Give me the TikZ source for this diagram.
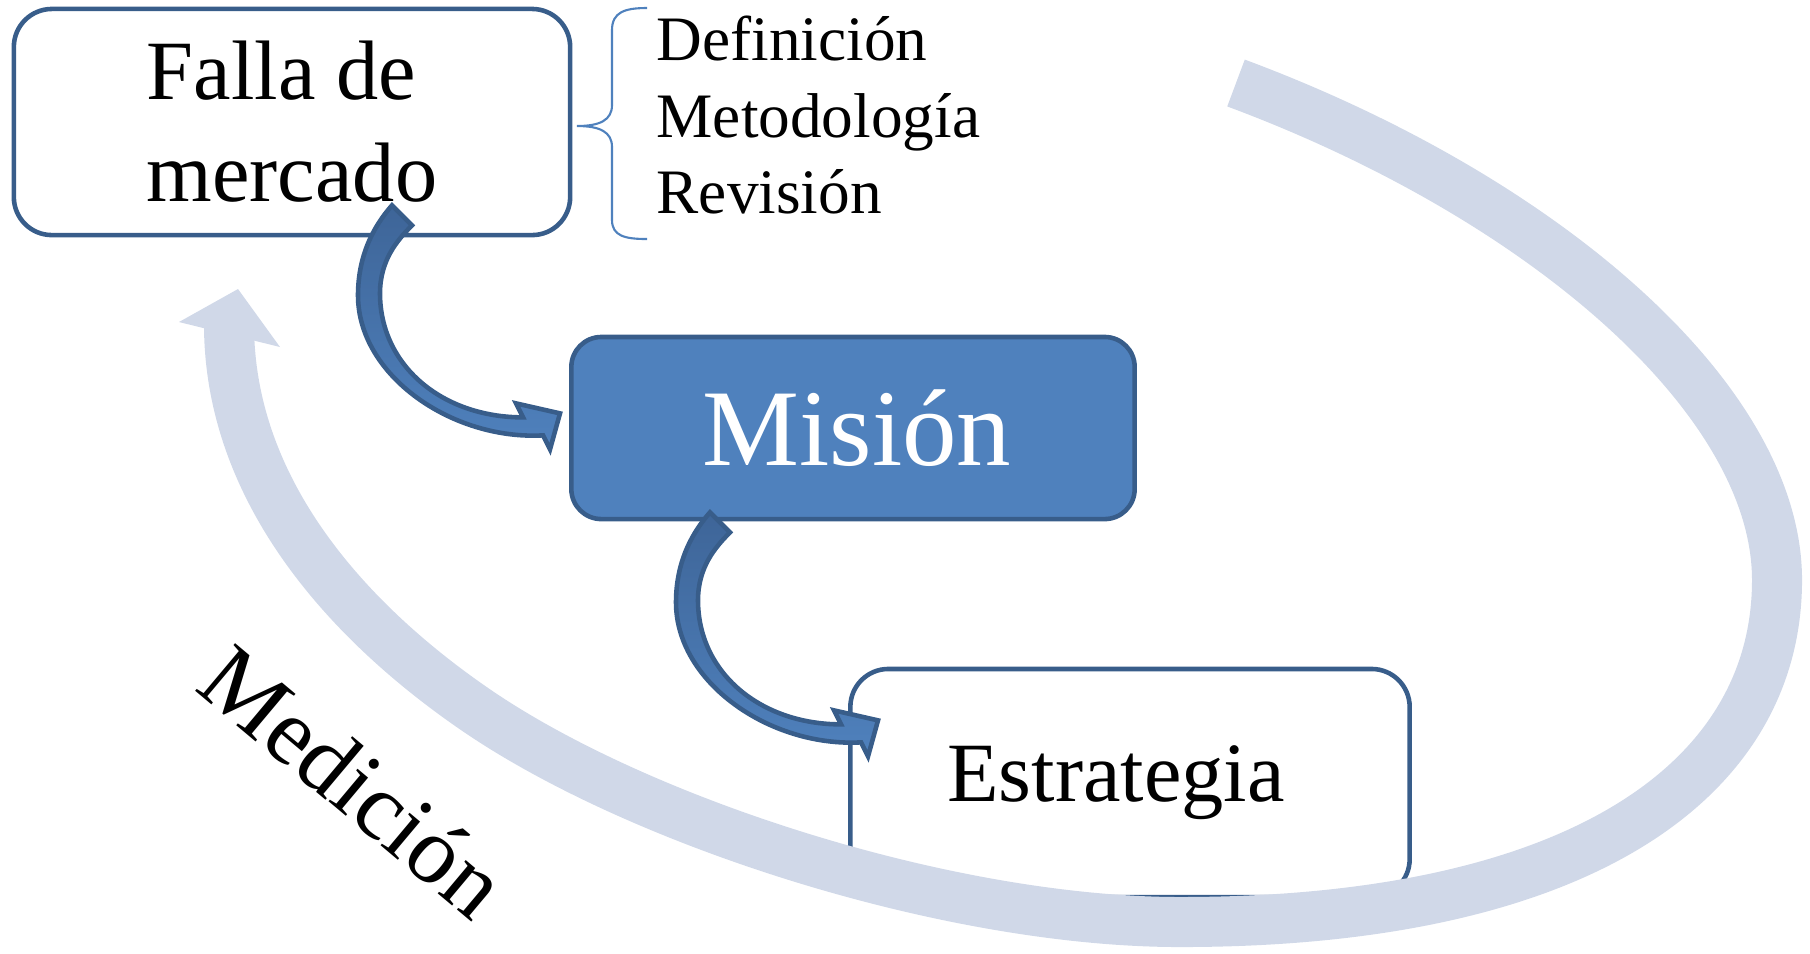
\documentclass[tikz,border=0pt]{standalone}
\usepackage{fontspec}
\setmainfont{Liberation Serif}
\usepackage{tikz}
\definecolor{boxline}{HTML}{385D8A}
\definecolor{misionblue}{HTML}{4F81BD}
\definecolor{arrowdark}{HTML}{3E6598}
\definecolor{cyclefill}{HTML}{D0D8E8}
\tikzstyle{whitebox}=[shape=rectangle,rounded corners=0.38cm,draw=boxline,line width=1.3pt,fill=white,align=center,font=\fontsize{24}{29}\selectfont]
\tikzstyle{bluebox}=[whitebox,rounded corners=0.3cm,fill=misionblue,text=white,font=\fontsize{31}{36}\selectfont]
\tikzstyle{itemtext}=[inner sep=0pt,font=\fontsize{18}{22}\selectfont]
\tikzstyle{bracket}=[draw=misionblue,line width=0.6pt]
\tikzstyle{cycleband}=[draw=cyclefill,line width=0.5cm]
\tikzstyle{arrowline}=[draw=boxline,line width=1.3pt,top color=arrowdark,bottom color=misionblue]
\tikzset{
  bendarrow/.pic={
    \draw[arrowline] (0,0) .. controls (-22,25) and (-34,55) .. (-34,90)
      .. controls (-34,170) and (60,235) .. (151,230)
      -- (158,244) -- (168,208) -- (124,198) -- (131,212)
      .. controls (50,212) and (-12,160) .. (-12,88)
      .. controls (-12,55) and (5,35) .. (20,20) -- cycle;
  }
}

\begin{document}
\begin{tikzpicture}[x=0.01cm,y=-0.01cm]
\useasboundingbox (0,0) rectangle (1810,953);
% boxes
\node[whitebox,align=left,minimum width=5.56cm,minimum height=2.26cm] (falla) at (292,122) {Falla de\\mercado};
\node[bluebox,minimum width=5.63cm,minimum height=1.82cm] (mision) at (853,428) {\hspace*{0.08cm}Misión};
\node[whitebox,minimum width=5.59cm,minimum height=2.28cm] (estrategia) at (1130,783) {Estrategia\hspace*{0.28cm}};
% items
\node[itemtext,anchor=base west] (def) at (656,60) {Definición};
\node[itemtext,anchor=base west] (met) at (656,137) {Metodología};
\node[itemtext,anchor=base west] (rev) at (656,213) {Revisión};
\draw[bracket] (647,8) .. controls (625,8) and (612,12) .. (612,30) -- (612,105)
  .. controls (612,120) and (600,126) .. (577,126)
  .. controls (600,126) and (612,132) .. (612,147) -- (612,220)
  .. controls (612,236) and (625,239) .. (647,239);
% measuring cycle
\node[font=\fontsize{27}{31}\selectfont,rotate=-40] (medicion) at (354,781) {Medición};
\draw[cycleband] (1236,83) .. controls (1545,198) and (1777,400) .. (1777,580)
  .. controls (1777,780) and (1580,922) .. (1180,922)
  .. controls (950,922) and (641,823) .. (476,710)
  .. controls (352,625) and (229,494) .. (229,324);
\fill[cyclefill] (179,322) -- (238,289) -- (280,347) -- cycle;
% bent arrows
\pic at ([shift={(100,-32)}]falla.south) {bendarrow};
\pic at ([shift={(-143,-9)}]mision.south) {bendarrow};
\end{tikzpicture}
\end{document}
